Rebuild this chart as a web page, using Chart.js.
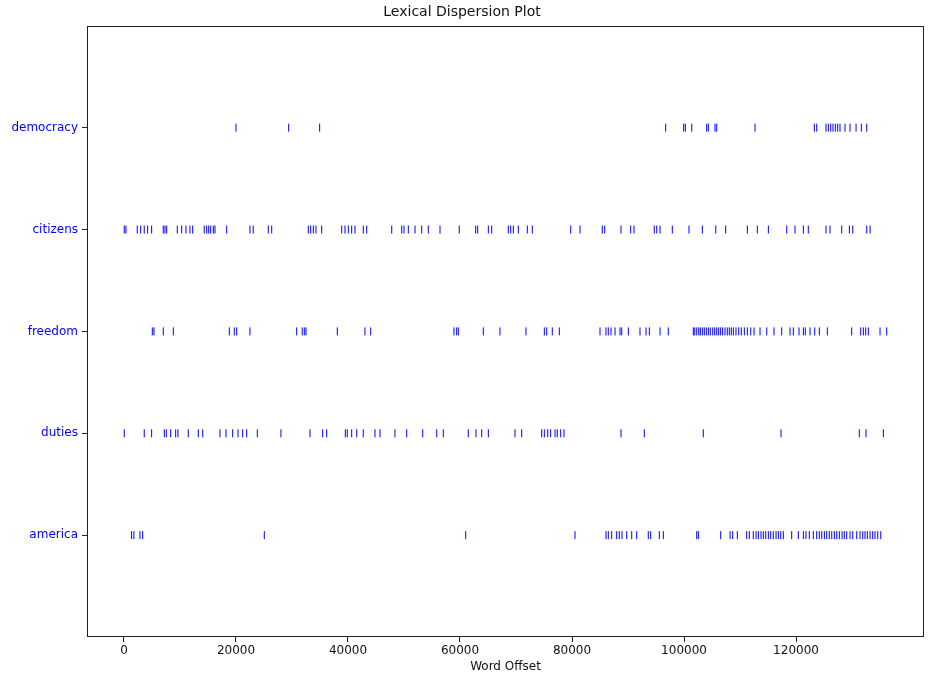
<!DOCTYPE html>
<html>
<head>
<meta charset="utf-8">
<script src="https://cdn.jsdelivr.net/npm/chart.js@4"></script>
<style>
  html, body { margin: 0; padding: 0; background: #fff; }
  canvas { display: block; }
</style>
</head>
<body>
<canvas id="chart" width="944" height="690"></canvas>
<script>
// words from bottom (y=0) to top (y=4)
const words = ['america', 'duties', 'freedom', 'citizens', 'democracy'];
const xTicks = [0, 20000, 40000, 60000, 80000, 100000, 120000];

// word offsets
const america = [1370, 1780, 2860, 3340, 25060, 61020, 80530, 86070, 86480, 87090, 87980, 88440, 88930,
  89770, 90660, 91550, 93620, 94050, 95590, 96310, 102270, 102560, 106550, 108220, 108690, 109520,
  111190, 111660, 112370, 112860, 113270, 113750, 114160, 114590, 115060, 115480, 115940, 116430,
  116840, 117270, 117730, 119230, 120410, 121310, 121780, 122370, 123090, 123690, 124160, 124590,
  125060, 125480, 125940, 126380, 126840, 127270, 127730, 128220, 128620, 129050, 129640, 130130,
  130840, 131430, 131910, 132320, 132730, 133220, 133690, 134100, 134590, 135130];

const duties = [50, 3620, 4940, 7200, 7560, 8340, 9230, 9640, 11480, 13270, 14060, 17140, 18220,
  19410, 20360, 21190, 21910, 23810, 28030, 33220, 35480, 36190, 39520, 39870, 40660, 41560, 42730,
  44820, 45720, 48390, 50480, 53340, 55840, 57020, 61480, 62860, 63880, 65060, 69820, 71020, 74590,
  75060, 75660, 76190, 76970, 77370, 77980, 78570, 88750, 92910, 103440, 117320, 131300, 132500, 135590];

const freedom = [5060, 5360, 7020, 8810, 18810, 19700, 20130, 22500, 30840, 31830, 32200, 32500,
  38090, 43030, 44060, 58930, 59410, 59700, 64160, 67140, 71780, 75060, 75480, 76480, 77730, 85000,
  86070, 86480, 86970, 87680, 88570, 88880, 90060, 92140, 93220, 93810, 95720, 97190, 101660, 101920,
  102270, 102630, 102910, 103270, 103620, 103980, 104340, 104690, 105130, 105480, 105840, 106190,
  106550, 106900, 107320, 107730, 108090, 108440, 108810, 109280, 109770, 110230, 110770, 111310,
  111920, 112500, 113570, 114770, 116070, 117440, 118930, 119520, 120530, 121310, 121660, 122500,
  123340, 124160, 125590, 129940, 131550, 132020, 132440, 132910, 135000, 136190];

const citizens = [50, 360, 2370, 2980, 3620, 4230, 4940, 7020, 7320, 7630, 9520, 10310, 11070, 11780,
  12270, 14330, 14770, 15130, 15480, 15950, 16250, 18340, 22500, 23080, 25770, 26380, 32910, 33340,
  33810, 34280, 35310, 38880, 39470, 40060, 40660, 41250, 42730, 43340, 47810, 49590, 50000, 50770,
  51970, 53160, 54340, 56430, 59870, 62800, 63160, 65060, 65660, 68620, 69050, 69520, 70410, 72020,
  72910, 79770, 81430, 85410, 85840, 88750, 90480, 91070, 94690, 95130, 95720, 97910, 100890, 103270,
  105670, 107440, 111310, 113090, 115060, 118340, 119820, 121310, 122190, 125350, 126070, 128160,
  129520, 130130, 132630, 133220];

const democracy = [20000, 29410, 34940, 96730, 99940, 100230, 101380, 104050, 104340, 105530, 105840,
  112680, 123270, 123690, 125350, 125770, 126190, 126600, 127020, 127440, 127850, 128750, 129640,
  130720, 131660, 132630];

const offsets = [america, duties, freedom, citizens, democracy];

const BLUE = '#0000ff';
const FONT = 'DejaVu Sans';

const frame = {
  id: 'frame',
  afterDraw(chart) {
    const a = chart.chartArea;
    const ctx = chart.ctx;
    ctx.save();
    ctx.strokeStyle = '#222';
    ctx.lineWidth = 1;
    ctx.strokeRect(Math.round(a.left) + 0.5, Math.round(a.top) + 0.5,
      Math.round(a.right - a.left) - 1, Math.round(a.bottom - a.top) - 1);
    ctx.restore();
  }
};

new Chart(document.getElementById('chart'), {
  type: 'scatter',
  data: {
    datasets: offsets.map((vals, i) => ({
      label: words[i],
      data: vals.map(v => ({ x: v, y: i })),
      pointStyle: 'line',
      rotation: 90,
      radius: 4,
      hoverRadius: 4,
      borderWidth: 1,
      borderColor: BLUE,
      backgroundColor: BLUE
    }))
  },
  options: {
    responsive: false,
    animation: false,
    layout: { padding: { top: 0, right: 20, bottom: 0, left: 0 } },
    plugins: {
      legend: { display: false },
      tooltip: { enabled: false },
      title: {
        display: true,
        text: 'Lexical Dispersion Plot',
        color: '#111',
        font: { family: FONT, size: 14, weight: 'normal' },
        padding: { top: 4, bottom: 5 }
      }
    },
    scales: {
      x: {
        type: 'linear',
        min: -6600,
        max: 142850,
        afterBuildTicks: s => { s.ticks = xTicks.map(v => ({ value: v })); },
        afterFit: s => { s.height = 53; },
        ticks: {
          color: '#111',
          font: { family: FONT, size: 12 },
          padding: 2,
          callback: v => String(v)
        },
        grid: { drawOnChartArea: false, drawTicks: true, tickLength: 5, color: '#222' },
        border: { display: false },
        title: {
          display: true,
          text: 'Word Offset',
          color: '#111',
          font: { family: FONT, size: 12 },
          padding: { top: 0, bottom: 16 }
        }
      },
      y: {
        type: 'linear',
        min: -1,
        max: 5,
        afterBuildTicks: s => { s.ticks = words.map((w, i) => ({ value: i })); },
        afterFit: s => { s.width = 87; },
        ticks: {
          color: BLUE,
          font: { family: FONT, size: 12 },
          padding: 4,
          callback: v => words[v]
        },
        grid: { drawOnChartArea: false, drawTicks: true, tickLength: 5, color: '#222' },
        border: { display: false }
      }
    }
  },
  plugins: [frame]
});
</script>
</body>
</html>
